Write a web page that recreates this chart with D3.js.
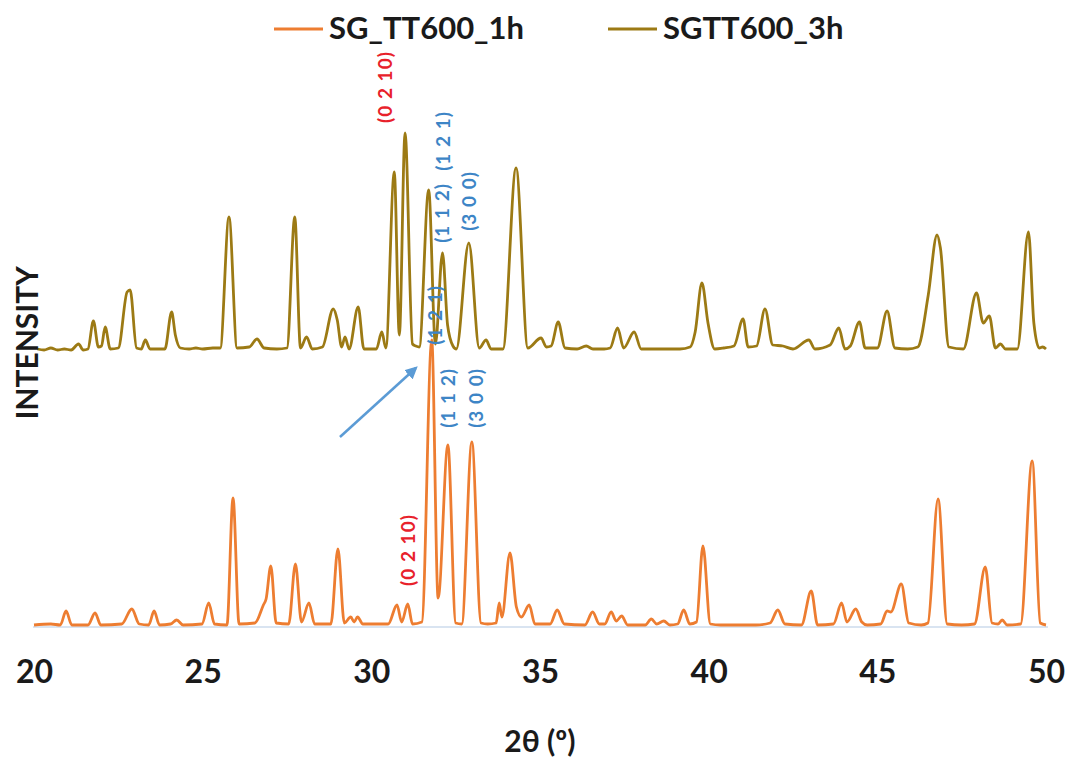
<!DOCTYPE html>
<html>
<head>
<meta charset="utf-8">
<script src="https://cdn.jsdelivr.net/npm/d3@7/dist/d3.min.js"></script>
<style>
  html, body { margin: 0; padding: 0; background: #ffffff; }
  svg { display: block; }
  text { font-family: Lato, "Open Sans", "DejaVu Sans", sans-serif; }
</style>
</head>
<body>
<svg id="chart" width="1070" height="760"></svg>
<script>
// ---------- data (2θ in degrees, intensity in arbitrary units) ----------
const seriesNames = ["SG_TT600_1h", "SGTT600_3h"];
const seriesColors = ["#ed7d31", "#9c7a14"];
const xTicks = [20, 25, 30, 35, 40, 45, 50];

// SG_TT600_1h (lower trace)
const sg1h = [
  [20.0,2],[20.5,3],[20.78,2],[20.95,16],[21.12,2],[21.6,2],[21.81,14],[21.98,2],
  [22.6,3],[22.9,18],[23.12,3],[23.4,2],[23.56,16],[23.72,2],[24.05,3],[24.23,7],[24.42,2],
  [24.98,3],[25.18,24],[25.35,3],[25.72,2],[25.9,129],[26.08,3],[26.55,4],[26.8,22],[26.88,28],
  [27.02,61],[27.18,4],[27.55,3],[27.75,63],[27.93,5],[28.15,24],[28.32,3],[28.8,3],
  [29.01,78],[29.2,4],[29.39,10],[29.49,5],[29.59,10],[29.75,3],[30.5,3],[30.76,22],
  [30.9,5],[31.08,23],[31.22,3],[31.5,5],[31.79,287],[31.98,29],[32.27,182],[32.5,4],
  [32.68,3],[32.98,185],[33.25,4],[33.45,3],[33.7,4],[33.79,24],[33.87,10],[34.11,74],
  [34.3,20],[34.45,10],[34.68,22],[34.85,3],[35.3,3],[35.51,17],[35.72,3],[36.33,2],
  [36.56,15],[36.76,3],[36.92,3],[37.11,15],[37.26,6],[37.42,11],[37.6,2],[38.12,2],
  [38.3,8],[38.46,3],[38.67,6],[38.85,2],[39.08,3],[39.26,17],[39.44,3],[39.64,5],
  [39.83,81],[40.05,3],[40.35,2],[41.4,2],[41.82,4],[42.05,17],[42.26,3],[42.75,2],
  [43.04,36],[43.23,2],[43.7,3],[43.94,24],[44.1,5],[44.36,18],[44.54,5],[44.7,2],
  [45.1,3],[45.29,16],[45.4,15],[45.71,43],[45.93,4],[46.3,2],[46.5,4],[46.8,128],
  [47.07,3],[47.5,2],[47.88,3],[48.2,60],[48.4,4],[48.58,3],[48.7,7],[48.85,2],
  [49.25,3],[49.59,166],[49.83,4],[50.0,2]
];

// SGTT600_3h (upper trace, before stacking offset)
const sg3h = [
  [20.1,3],[20.3,2],[20.5,4],[20.7,2],[20.9,3],[21.1,2],[21.32,8],[21.46,2],[21.6,3],
  [21.76,31],[21.91,5],[22.0,6],[22.11,25],[22.26,3],[22.5,4],[22.76,60],[22.85,62],
  [23.04,4],[23.18,3],[23.3,12],[23.44,3],[23.88,3],[24.08,40],[24.19,17],[24.34,4],
  [24.6,3],[24.8,4],[25.0,3],[25.3,4],[25.52,4],[25.78,135],[26.02,4],[26.38,5],
  [26.61,13],[26.82,4],[27.2,3],[27.5,4],[27.73,135],[27.9,4],[28.08,15],[28.25,3],
  [28.55,5],[28.87,43],[28.99,32],[29.12,5],[29.22,15],[29.34,3],[29.61,45],[29.78,3],
  [30.15,3],[30.31,20],[30.43,4],[30.68,180],[30.83,17],[31.0,219],[31.22,8],[31.32,6],
  [31.42,5],[31.7,162],[31.9,8],[32.11,99],[32.26,27],[32.42,6],[32.52,3],[32.89,109],
  [33.2,4],[33.4,12],[33.55,3],[33.9,3],[34.29,184],[34.64,4],[35.03,14],[35.19,5],
  [35.33,6],[35.54,30],[35.74,4],[36.1,3],[36.37,6],[36.57,3],[36.9,3],[37.08,4],
  [37.3,24],[37.48,4],[37.79,20],[38.0,3],[39.15,3],[39.45,5],[39.6,20],[39.8,69],
  [39.98,29],[40.18,3],[40.45,4],[40.75,6],[41.02,33],[41.17,5],[41.42,6],[41.67,43],
  [41.9,7],[42.2,6],[42.5,3],[42.97,12],[43.15,3],[43.6,7],[43.86,24],[44.04,3],
  [44.2,6],[44.47,30],[44.64,4],[45.0,4],[45.29,41],[45.52,4],[45.9,3],[46.2,5],
  [46.51,57],[46.77,117],[46.87,104],[47.12,5],[47.55,3],[47.94,59],[48.14,29],
  [48.32,36],[48.5,4],[48.65,8],[48.8,3],[49.15,3],[49.48,120],[49.64,29],[49.8,4],
  [49.9,5],[50.0,3]
];
const stackOffset = 275;

// annotations: [label, 2θ, intensity, colour]
const annotations = [
  ["(0 2 10)", 30.38, 540, "#e8212b"],
  ["(1 2 1)", 32.1, 486, "#3d85c6"],
  ["(1 1 2)", 32.07, 414, "#3d85c6"],
  ["(3 0 0)", 32.87, 426, "#3d85c6"],
  ["(1 2 1)", 31.86, 312, "#3d85c6"],
  ["(1 1 2)", 32.27, 229, "#3d85c6"],
  ["(3 0 0)", 33.1, 229, "#3d85c6"],
  ["(0 2 10)", 31.06, 77, "#e8212b"]
];
const arrowFrom = [29.07, 190];
const arrowTo = [31.32, 259];

// ---------- drawing ----------
const svg = d3.select("#chart");
const x = d3.scaleLinear().domain([20, 50]).range([34, 1046]);
const y = d3.scaleLinear().domain([0, 500]).range([627, 127]);

// baseline axis line
svg.append("line")
  .attr("x1", x(20) - 1).attr("x2", x(50) + 2)
  .attr("y1", y(0)).attr("y2", y(0))
  .attr("stroke", "#b4c9e4").attr("stroke-width", 1.2);

const line = d3.line()
  .x(d => x(d[0])).y(d => y(d[1]))
  .curve(d3.curveMonotoneX);

const stacked3h = sg3h.map(d => [d[0], d[1] + stackOffset]);

svg.append("path").datum(stacked3h)
  .attr("fill", "none").attr("stroke", seriesColors[1])
  .attr("stroke-width", 2.8).attr("stroke-linejoin", "round")
  .attr("d", line);

svg.append("path").datum(sg1h)
  .attr("fill", "none").attr("stroke", seriesColors[0])
  .attr("stroke-width", 2.8).attr("stroke-linejoin", "round")
  .attr("d", line);

// x axis labels
const xAxis = d3.axisBottom(x).tickValues(xTicks).tickSize(0).tickPadding(33)
  .tickFormat(d3.format("d"));
const gx = svg.append("g").attr("transform", `translate(0,${y(0)})`).call(xAxis);
gx.select(".domain").remove();
gx.selectAll("text")
  .attr("fill", "#1a1a1a")
  .style("font-size", "32px").style("font-weight", "bold");

// axis titles
svg.append("text")
  .attr("x", 540).attr("y", 752)
  .attr("text-anchor", "middle")
  .style("font-size", "30px").style("font-weight", "bold").attr("fill", "#1a1a1a")
  .text("2θ (º)");

svg.append("text")
  .attr("transform", "translate(38,343) rotate(-90)")
  .attr("text-anchor", "middle")
  .style("font-size", "30px").style("font-weight", "bold").attr("fill", "#1a1a1a")
  .text("INTENSITY");

// annotations
svg.selectAll("text.ann").data(annotations).enter().append("text")
  .attr("class", "ann")
  .attr("transform", d => `translate(${x(d[1])},${y(d[2])}) rotate(-90)`)
  .attr("text-anchor", "middle")
  .attr("dominant-baseline", "central")
  .style("font-size", "19px").style("font-weight", "bold")
  .style("letter-spacing", "1px")
  .attr("fill", d => d[3])
  .text(d => d[0]);

// arrow
const defs = svg.append("defs");
defs.append("marker").attr("id", "arrowhead")
  .attr("viewBox", "0 0 10 10").attr("refX", 8).attr("refY", 5)
  .attr("markerWidth", 5).attr("markerHeight", 5).attr("orient", "auto")
  .append("path").attr("d", "M0,0 L10,5 L0,10 Z").attr("fill", "#5b9bd5");
svg.append("line")
  .attr("x1", x(arrowFrom[0])).attr("y1", y(arrowFrom[1]))
  .attr("x2", x(arrowTo[0])).attr("y2", y(arrowTo[1]))
  .attr("stroke", "#5b9bd5").attr("stroke-width", 2.5)
  .attr("marker-end", "url(#arrowhead)");

// legend
const legendItems = [
  { name: seriesNames[0], color: seriesColors[0], x0: 274 },
  { name: seriesNames[1], color: seriesColors[1], x0: 608 }
];
const lg = svg.append("g");
legendItems.forEach(it => {
  lg.append("line").attr("x1", it.x0).attr("x2", it.x0 + 49)
    .attr("y1", 29).attr("y2", 29)
    .attr("stroke", it.color).attr("stroke-width", 3);
  lg.append("text").attr("x", it.x0 + 55).attr("y", 39)
    .style("font-size", "31px").style("font-weight", "bold").attr("fill", "#1a1a1a")
    .text(it.name);
});
</script>
</body>
</html>
